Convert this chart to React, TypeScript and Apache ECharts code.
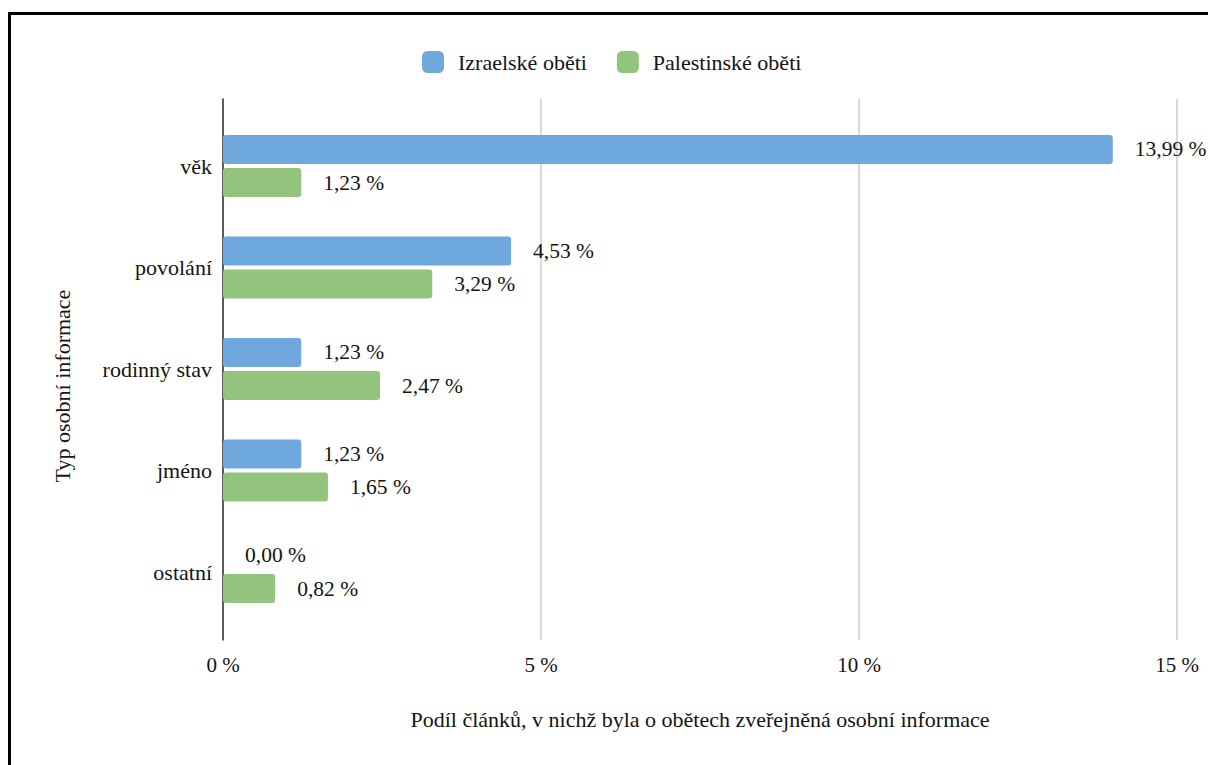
import React, { useEffect, useRef } from "react";
import * as echarts from "echarts";

const categories = ["věk", "povolání", "rodinný stav", "jméno", "ostatní"];
const israeli = [13.99, 4.53, 1.23, 1.23, 0.0];
const palestinian = [1.23, 3.29, 2.47, 1.65, 0.82];
const seriesNames = ["Izraelské oběti", "Palestinské oběti"];
const xTicks = { min: 0, max: 15, interval: 5 };
const xTitle = "Podíl článků, v nichž byla o obětech zveřejněná osobní informace";
const yTitle = "Typ osobní informace";

const FONT = "Liberation Serif";
const TXT = "#141414";

export default function App() {
  const ref = useRef<HTMLDivElement>(null);
  useEffect(() => {
    if (!ref.current) return;
    const chart = echarts.init(ref.current, undefined, { renderer: "svg" });
    const fmt = (v: number) => v.toFixed(2).replace(".", ",") + " %";
    const label = {
      show: true,
      position: "right" as const,
      distance: 22,
      fontFamily: FONT,
      fontSize: 21.5,
      color: TXT,
      formatter: (p: any) => fmt(p.value),
    };
    chart.setOption({
      animation: false,
      textStyle: { fontFamily: FONT },
      legend: {
        top: 38,
        left: 409,
        itemWidth: 22,
        itemHeight: 22,
        itemGap: 30,
        icon: "roundRect",
        textStyle: { fontFamily: FONT, fontSize: 22, color: TXT, padding: [0, 0, 0, 9] },
        data: seriesNames,
      },
      grid: [
        { left: 215, right: 31, top: 91, bottom: 125 },
        { left: 215, right: 31, top: 107.25, bottom: 142.25 },
      ],
      xAxis: [
        {
          gridIndex: 0,
          type: "value",
          min: xTicks.min,
          max: xTicks.max,
          interval: xTicks.interval,
          axisLabel: {
            fontFamily: FONT,
            fontSize: 21,
            color: TXT,
            margin: 14,
            formatter: (v: number) => v + " %",
          },
          axisLine: { show: false },
          axisTick: { show: false },
          splitLine: { show: true, lineStyle: { color: "#cccccc", width: 1.5 } },
          name: xTitle,
          nameLocation: "middle",
          nameGap: 68,
          nameTextStyle: { fontFamily: FONT, fontSize: 22, color: TXT },
        },
        {
          gridIndex: 1,
          type: "value",
          min: xTicks.min,
          max: xTicks.max,
          interval: xTicks.interval,
          show: false,
        },
      ],
      yAxis: [
        {
          gridIndex: 0,
          type: "value",
          min: 0,
          max: 1,
          axisLine: { show: true, lineStyle: { color: "#333333", width: 1.5 } },
          axisTick: { show: false },
          axisLabel: { show: false },
          splitLine: { show: false },
        },
        {
          gridIndex: 1,
          type: "category",
          inverse: true,
          data: categories,
          axisLine: { show: false },
          axisTick: { show: false },
          axisLabel: { fontFamily: FONT, fontSize: 22, color: TXT, margin: 11 },
        },
      ],
      series: [
        {
          name: seriesNames[0],
          type: "bar",
          xAxisIndex: 1,
          yAxisIndex: 1,
          data: israeli,
          barWidth: 29,
          barGap: "14%",
          itemStyle: { color: "#6fa8dc", borderRadius: 3 },
          label,
        },
        {
          name: seriesNames[1],
          type: "bar",
          xAxisIndex: 1,
          yAxisIndex: 1,
          data: palestinian,
          barWidth: 29,
          barGap: "14%",
          itemStyle: { color: "#93c47d", borderRadius: 3 },
          label,
        },
      ],
      graphic: [
        {
          type: "text",
          x: 54,
          y: 378,
          rotation: Math.PI / 2,
          style: {
            text: yTitle,
            fontFamily: FONT,
            fontSize: 22,
            fill: TXT,
            textAlign: "center",
            textVerticalAlign: "middle",
          },
        },
      ],
    });
    return () => chart.dispose();
  }, []);
  return (
    <div style={{ position: "fixed", left: 0, top: 0, right: 0, bottom: 0, overflow: "hidden", background: "#fff" }}>
      <div
        style={{
          position: "absolute",
          left: 8,
          top: 12,
          width: 1400,
          height: 1000,
          border: "3px solid #000",
          boxSizing: "border-box",
        }}
      />
      <div ref={ref} style={{ position: "absolute", left: 8, top: 8, width: 1200, height: 757 }} />
    </div>
  );
}
